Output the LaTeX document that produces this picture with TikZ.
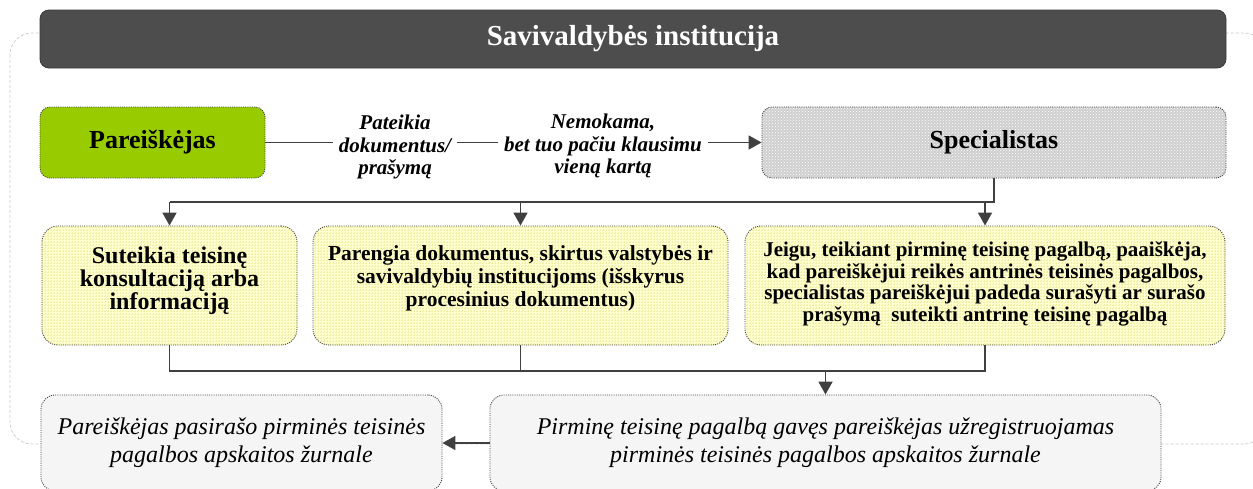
\documentclass[tikz,border=0pt]{standalone}
\usepackage{fontspec}
\setmainfont{Liberation Serif}
\usetikzlibrary{arrows.meta,patterns,calc}
\definecolor{titlegray}{HTML}{4D4D4D}
\definecolor{titleedge}{HTML}{3A3A3A}
\definecolor{applgreen}{HTML}{99CC00}
\definecolor{specgray}{HTML}{CFCFCF}
\definecolor{paleyellow}{HTML}{FFFFCF}
\definecolor{gridyellow}{HTML}{F2EFA8}
\definecolor{palegray}{HTML}{F5F5F5}
\definecolor{linegray}{HTML}{404040}
\definecolor{outergray}{HTML}{C8C8C8}
\definecolor{dotedge}{HTML}{404040}
\tikzset{
  dotbox/.style={draw=dotedge, line width=0.9pt, dash pattern=on 1pt off 1.2pt, rounded corners=10pt, inner sep=0pt, align=center},
  titlebox/.style={fill=titlegray, draw=titleedge, line width=0.8pt, rounded corners=9pt, text=white, font=\fontsize{29}{32}\selectfont\bfseries},
  greenbox/.style={dotbox, fill=applgreen, font=\fontsize{26}{28}\selectfont\bfseries},
  specbox/.style={dotbox, preaction={fill=specgray}, pattern=crosshatch dots, pattern color=white, font=\fontsize{26}{28}\selectfont\bfseries},
  yellowbox/.style={dotbox, rounded corners=16pt, preaction={fill=paleyellow}, pattern=grid, pattern color=gridyellow},
  graybox/.style={dotbox, rounded corners=14pt, fill=palegray, font=\fontsize{24}{28}\selectfont\itshape},
  edgelabel/.style={inner sep=6pt, align=center, font=\fontsize{21}{22.5}\selectfont\bfseries\itshape},
  conn/.style={draw=linegray, line width=1.8pt},
  arr/.style={conn, -{Triangle[length=13pt,width=14pt]}},
}
\begin{document}
\begin{tikzpicture}[x=1pt,y=-1pt]
\useasboundingbox (0,0) rectangle (1253,488);
\clip (0,0) rectangle (1253,488);
% outer dashed frame
\draw[outergray, line width=0.7pt, dash pattern=on 3pt off 2pt, rounded corners=22pt] (10,33) rectangle (1266,444);
% title
\node[titlebox, minimum width=1186pt, minimum height=58pt] (title) at (633,39) {Savivaldybės institucija};
% top row
\node[greenbox, minimum width=225pt, minimum height=71pt] (appl) at (152.5,142.5) {Pareiškėjas};
\node[specbox, minimum width=464pt, minimum height=71pt] (spec) at (994,142.5) {Specialistas};
\node[edgelabel] (l1) at (395,147) {Pateikia\\dokumentus/\\prašymą};
\node[edgelabel] (l2) at (603,146) {Nemokama,\\bet tuo pačiu klausimu\\vieną kartą};
% middle row
\node[yellowbox, minimum width=255pt, minimum height=119pt] (b1) at (169.5,285.5) {};
\node[yellowbox, minimum width=415pt, minimum height=119pt] (b2) at (520.5,285.5) {};
\node[yellowbox, minimum width=480pt, minimum height=119pt] (b3) at (985,285.5) {};
\node[align=center, font=\fontsize{24}{23}\selectfont\bfseries] (b1t) at (169.5,281) {Suteikia teisinę\\konsultaciją arba\\informaciją};
\node[align=center, font=\fontsize{21.5}{23}\selectfont\bfseries] (b2t) at (520.5,278) {Parengia dokumentus, skirtus valstybės ir\\savivaldybių institucijoms (išskyrus\\procesinius dokumentus)};
\node[align=center, font=\fontsize{21}{21.6}\selectfont\bfseries] (b3t) at (985,284) {Jeigu, teikiant pirminę teisinę pagalbą, paaiškėja,\\kad pareiškėjui reikės antrinės teisinės pagalbos,\\specialistas pareiškėjui padeda surašyti ar surašo\\prašymą\ \ suteikti antrinę teisinę pagalbą};
% bottom row
\node[graybox, minimum width=401pt, minimum height=96pt] (b4) at (241.5,443) {Pareiškėjas pasirašo pirminės teisinės\\pagalbos apskaitos žurnale};
\node[graybox, minimum width=671pt, minimum height=96pt] (b5) at (825.5,443) {Pirminę teisinę pagalbą gavęs pareiškėjas užregistruojamas\\pirminės teisinės pagalbos apskaitos žurnale};
% connectors top
\draw[conn] (appl.east) -- (appl.east -| l1.west);
\draw[conn] (l1.east |- appl.east) -- (l2.west |- appl.east);
\draw[arr] (l2.east |- spec.west) -- (spec.west);
% branch from Specialistas
\coordinate (bus) at (0,202);
\draw[conn] (spec.south) -- (spec.south |- bus) -- (b1.north |- bus);
\draw[arr] (b1.north |- bus) -- (b1.north);
\draw[arr] (b2.north |- bus) -- (b2.north);
\draw[arr] (b3.north |- bus) -- (b3.north);
% merge to bottom
\coordinate (merge) at (0,371);
\draw[conn] (b1.south) -- (b1.south |- merge) -- (b3.south |- merge) -- (b3.south);
\draw[conn] (b2.south) -- (b2.south |- merge);
\draw[arr] (b5.north |- merge) -- (b5.north);
\draw[arr] (b5.west) -- (b4.east);
\end{tikzpicture}
\end{document}
